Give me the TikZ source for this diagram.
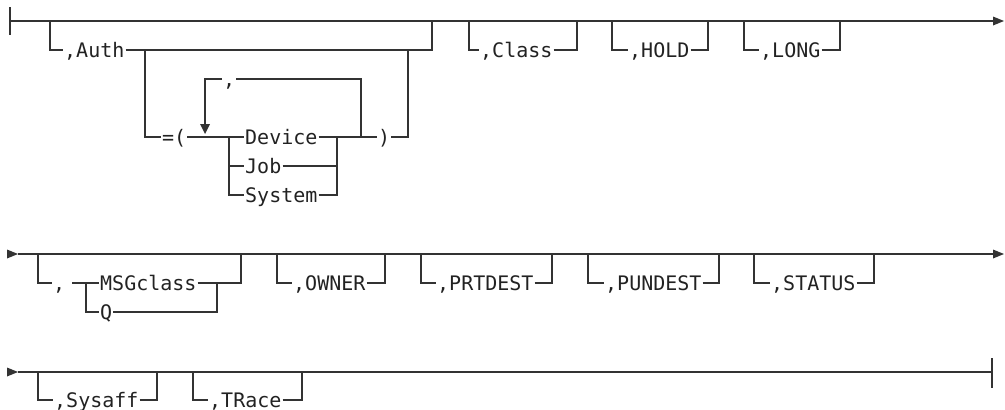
\documentclass[tikz,border=0pt]{standalone}
\usepackage{fontspec}
\newfontfamily\railfont{DejaVu Sans Mono}
\definecolor{railc}{HTML}{333333}
\definecolor{txtc}{HTML}{222222}
\begin{document}
\begin{tikzpicture}[x=1pt,y=-1pt,
  rail/.style={draw=railc, line width=1.2pt, line join=miter},
  kw/.style={font=\railfont\fontsize{20}{20}\selectfont, text=txtc, inner sep=1pt,
    anchor=west, text height=14.6pt, text depth=0pt},
  tip/.style={fill=railc}]
\useasboundingbox (0,0) rectangle (1005,410);
% ---------------- Row 1 ----------------
\coordinate (b1a) at (10,7); \coordinate (b1b) at (10,35);
\coordinate (r1s) at (10,21); \coordinate (r1e) at (993,21);
\draw[rail] (b1a) -- (b1b);
\draw[rail] (r1s) -- (r1e);
\fill[tip] (r1e) ++(0,-4.5) -- ++(11,4.5) -- ++(-11,4.5) -- cycle;
% Auth
\node[kw] (auth) at (63,50) {,Auth};
\coordinate (aL) at (50,21); \coordinate (aR) at (432,21);
\draw[rail] (aL) -- (aL |- auth) -- (auth.west);
\draw[rail] (auth.east) -- (aR |- auth) -- (aR);
% =( ... )
\node[kw] (eq) at (161,137) {=(};
\node[kw] (dev) at (244,137) {Device};
\node[kw] (job) at (244,166) {Job};
\node[kw] (sys) at (244,195) {System};
\node[kw] (rp) at (377,137) {)};
\coordinate (eL) at (145,50); \coordinate (eR) at (408,50);
\coordinate (cL) at (229,137); \coordinate (cR) at (337,137);
\draw[rail] (eL) -- (eL |- eq) -- (eq.west);
\draw[rail] (eq.east) -- (dev.west);
\draw[rail] (cL) -- (cL |- sys) -- (sys.west);
\draw[rail] (cL |- job) -- (job.west);
\draw[rail] (dev.east) -- (rp.west);
\draw[rail] (job.east) -- (cR |- job);
\draw[rail] (sys.east) -- (cR |- sys) -- (cR);
\draw[rail] (rp.east) -- (eR |- rp) -- (eR);
% repeat loop
\node[kw] (rc) at (222,79) {,};
\coordinate (lL) at (205,79); \coordinate (lR) at (361,137); \coordinate (lA) at (205,124);
\draw[rail] (lA) -- (lL) -- (rc.west);
\draw[rail] (rc.east) -- (lR |- rc) -- (lR);
\fill[tip] (lA) ++(-5,0) -- ++(10,0) -- ++(-5,10) -- cycle;
% Class, HOLD, LONG
\node[kw] (cls) at (479,50) {,Class};
\node[kw] (hold) at (628,50) {,HOLD};
\node[kw] (long) at (759,50) {,LONG};
\coordinate (c1) at (469,21); \coordinate (c2) at (577,21);
\coordinate (h1) at (612,21); \coordinate (h2) at (708,21);
\coordinate (g1) at (744,21); \coordinate (g2) at (840,21);
\draw[rail] (c1) -- (c1 |- cls) -- (cls.west);
\draw[rail] (cls.east) -- (c2 |- cls) -- (c2);
\draw[rail] (h1) -- (h1 |- hold) -- (hold.west);
\draw[rail] (hold.east) -- (h2 |- hold) -- (h2);
\draw[rail] (g1) -- (g1 |- long) -- (long.west);
\draw[rail] (long.east) -- (g2 |- long) -- (g2);
% ---------------- Row 2 ----------------
\coordinate (r2a) at (7,254); \coordinate (r2s) at (18,254); \coordinate (r2e) at (993,254);
\fill[tip] (r2a) ++(0,-4.5) -- ++(11,4.5) -- ++(-11,4.5) -- cycle;
\draw[rail] (r2s) -- (r2e);
\fill[tip] (r2e) ++(0,-4.5) -- ++(11,4.5) -- ++(-11,4.5) -- cycle;
% , MSGclass / Q
\node[kw] (mc) at (52,283) {,};
\node[kw] (msg) at (99,283) {MSGclass};
\node[kw] (q) at (99,312) {Q};
\coordinate (mL) at (38,254); \coordinate (mR) at (241,254);
\coordinate (m0) at (72,283); \coordinate (qL) at (86,283); \coordinate (qR) at (217,283);
\draw[rail] (mL) -- (mL |- mc) -- (mc.west);
\draw[rail] (m0) -- (msg.west);
\draw[rail] (qL) -- (qL |- q) -- (q.west);
\draw[rail] (msg.east) -- (qR);
\draw[rail] (q.east) -- (qR |- q) -- (qR);
\draw[rail] (qR) -- (mR |- qR) -- (mR);
% OWNER, PRTDEST, PUNDEST, STATUS
\node[kw] (own) at (292,283) {,OWNER};
\node[kw] (prt) at (436,283) {,PRTDEST};
\node[kw] (pun) at (604,283) {,PUNDEST};
\node[kw] (sta) at (770,283) {,STATUS};
\coordinate (o1) at (277,254); \coordinate (o2) at (385,254);
\coordinate (p1) at (421,254); \coordinate (p2) at (552,254);
\coordinate (u1) at (588,254); \coordinate (u2) at (719,254);
\coordinate (s1) at (754,254); \coordinate (s2) at (874,254);
\draw[rail] (o1) -- (o1 |- own) -- (own.west);
\draw[rail] (own.east) -- (o2 |- own) -- (o2);
\draw[rail] (p1) -- (p1 |- prt) -- (prt.west);
\draw[rail] (prt.east) -- (p2 |- prt) -- (p2);
\draw[rail] (u1) -- (u1 |- pun) -- (pun.west);
\draw[rail] (pun.east) -- (u2 |- pun) -- (u2);
\draw[rail] (s1) -- (s1 |- sta) -- (sta.west);
\draw[rail] (sta.east) -- (s2 |- sta) -- (s2);
% ---------------- Row 3 ----------------
\coordinate (r3a) at (7,372); \coordinate (r3s) at (18,372); \coordinate (r3e) at (992,372);
\coordinate (b3a) at (992,358); \coordinate (b3b) at (992,388);
\fill[tip] (r3a) ++(0,-4.5) -- ++(11,4.5) -- ++(-11,4.5) -- cycle;
\draw[rail] (r3s) -- (r3e);
\draw[rail] (b3a) -- (b3b);
\node[kw] (saf) at (53,400) {,Sysaff};
\node[kw] (trc) at (208,400) {,TRace};
\coordinate (y1) at (38,372); \coordinate (y2) at (157,372);
\coordinate (t1) at (193,372); \coordinate (t2) at (302,372);
\draw[rail] (y1) -- (y1 |- saf) -- (saf.west);
\draw[rail] (saf.east) -- (y2 |- saf) -- (y2);
\draw[rail] (t1) -- (t1 |- trc) -- (trc.west);
\draw[rail] (trc.east) -- (t2 |- trc) -- (t2);
\end{tikzpicture}
\end{document}
